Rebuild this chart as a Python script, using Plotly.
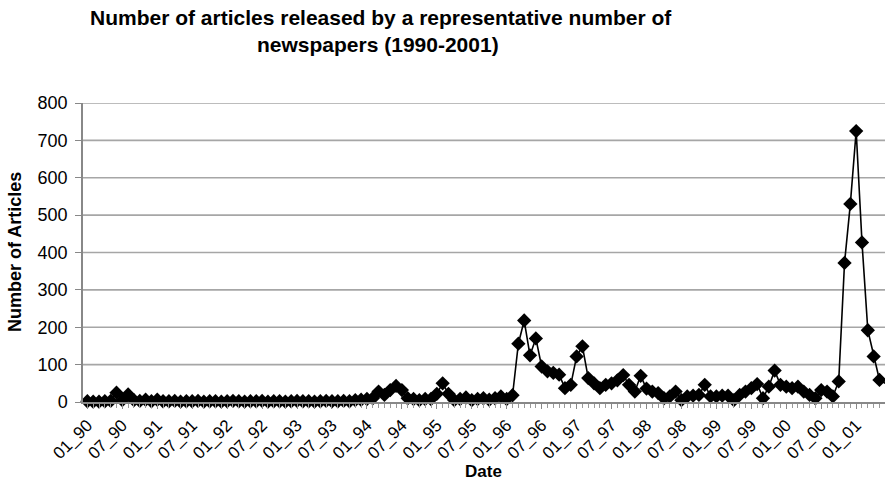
import plotly.graph_objects as go

# Monthly article counts, Jan 1990 (index 0) onwards
articles = [
    2, 1, 1, 2, 3, 25, 5, 20, 5, 3, 6, 2, 6, 2, 2, 3, 1, 2, 2, 3,
    1, 2, 2, 1, 2, 3, 2, 1, 2, 2, 3, 1, 2, 2, 1, 2, 3, 2, 2, 1,
    2, 3, 2, 2, 3, 2, 5, 6, 8, 10, 28, 19, 32, 43, 32, 10, 8, 5, 8, 8,
    22, 50, 22, 5, 8, 12, 5, 8, 10, 6, 10, 15, 8, 18, 156, 218, 125, 170, 95, 82,
    78, 73, 37, 46, 122, 149, 64, 50, 37, 46, 50, 58, 72, 46, 28, 70, 36, 28, 24, 10,
    15, 28, 5, 15, 17, 19, 46, 15, 15, 17, 17, 5, 19, 28, 37, 48, 10, 41, 84, 46,
    41, 37, 41, 28, 19, 10, 32, 28, 15, 55, 372, 530, 725, 427, 192, 122, 59, 50,
]
month_index = list(range(len(articles)))

# Tick labels every 6 months
tick_labels = [
    "01_90", "07_90", "01_91", "07_91", "01_92", "07_92", "01_93", "07_93",
    "01_94", "07_94", "01_95", "07_95", "01_96", "07_96", "01_97", "07_97",
    "01_98", "07_98", "01_99", "07_99", "01_00", "07_00", "01_01",
]
tick_positions = [6 * k for k in range(len(tick_labels))]

y_ticks = [0, 100, 200, 300, 400, 500, 600, 700, 800]

title_line1 = "Number of articles released by a representative number of"
title_line2 = "newspapers (1990-2001)"

FONT = "Liberation Sans, Arial, sans-serif"
GRID = "#a6a6a6"

fig = go.Figure()
fig.add_trace(go.Scatter(
    x=month_index, y=articles, mode="lines+markers",
    line=dict(color="black", width=1.6),
    marker=dict(symbol="diamond", size=11, color="black"),
    cliponaxis=False, showlegend=False,
))

# horizontal gridlines at the y tick values
for v in y_ticks[1:]:
    fig.add_hline(y=v, line=dict(color=GRID, width=1.6), layer="below")

fig.update_layout(
    template="none",
    width=885, height=496,
    margin=dict(l=83, r=0, t=103, b=94, autoexpand=False),
    paper_bgcolor="white", plot_bgcolor="white",
    font=dict(family=FONT, color="black", size=16),
    xaxis=dict(
        automargin=False,
        range=[-0.75, 136.95],
        tickmode="array", tickvals=tick_positions, ticktext=tick_labels,
        tickangle=-45, tickfont=dict(size=17, family=FONT),
        ticks="outside", ticklen=5, tickcolor="#888888",
        minor=dict(dtick=1, tick0=0, ticks="outside", ticklen=4, tickcolor="#999999", showgrid=False),
        showline=True, linecolor="#888888", linewidth=1.5,
        showgrid=False, zeroline=False,
    ),
    yaxis=dict(
        automargin=False,
        range=[0, 800],
        tickmode="array", tickvals=y_ticks,
        tickfont=dict(size=18, family=FONT),
        ticks="outside", ticklen=6, tickcolor="#888888",
        ticklabelstandoff=4,
        showline=True, linecolor="#888888", linewidth=1.5,
        showgrid=False, zeroline=False,
    ),
    annotations=[
        dict(text="<b>" + title_line1 + "</b>", xref="paper", yref="paper",
             x=(381 - 83) / 802, y=(402 - 18) / 299, xanchor="center", yanchor="middle",
             showarrow=False, font=dict(size=21, family=FONT)),
        dict(text="<b>" + title_line2 + "</b>", xref="paper", yref="paper",
             x=(378 - 83) / 802, y=(402 - 45) / 299, xanchor="center", yanchor="middle",
             showarrow=False, font=dict(size=21, family=FONT)),
        dict(text="<b>Number of Articles</b>", xref="paper", yref="paper",
             x=(15 - 83) / 802, y=(402 - 252) / 299, xanchor="center", yanchor="middle", textangle=-90,
             showarrow=False, font=dict(size=18, family=FONT)),
        dict(text="<b>Date</b>", xref="paper", yref="paper",
             x=(483 - 83) / 802, y=(402 - 471) / 299, xanchor="center", yanchor="middle",
             showarrow=False, font=dict(size=17, family=FONT)),
    ],
)

fig.write_html(
    "out.html",
    config={"displayModeBar": False},
    post_script="document.body.style.margin='0';document.body.style.overflow='hidden';",
)
